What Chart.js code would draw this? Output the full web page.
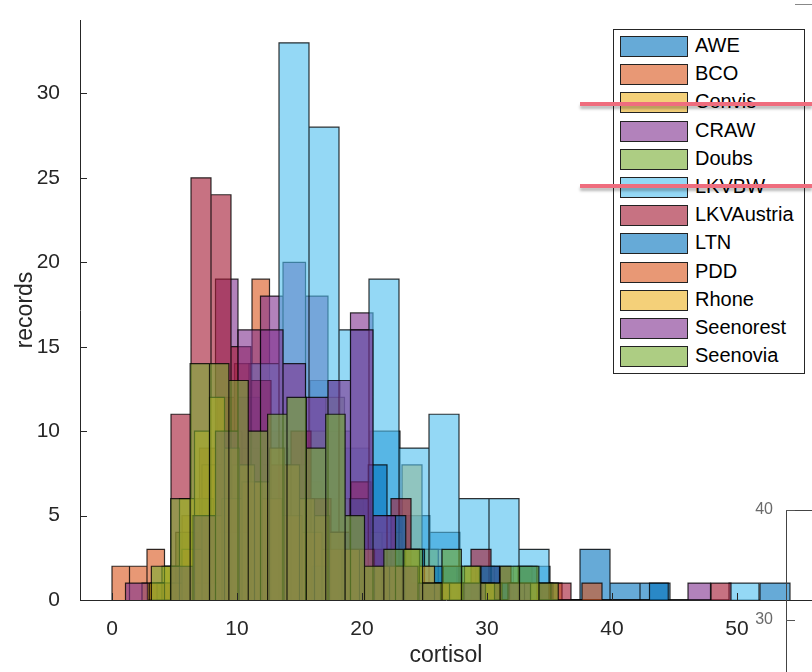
<!DOCTYPE html>
<html>
<head>
<meta charset="utf-8">
<script src="https://cdn.jsdelivr.net/npm/chart.js@4.4.1/dist/chart.umd.min.js"></script>
<style>
  body { margin: 0; background: #fff; }
  #wrap { position: relative; width: 812px; height: 672px; overflow: hidden; font-family: "Liberation Sans", Arial, sans-serif; }
  #main { position: absolute; left: 0; top: 0; }
  #inset { position: absolute; left: 700px; top: 490px; }
  #legend { position: absolute; left: 613px; top: 29px; width: 192px; height: 345px; border: 1px solid #262626; background: #fff; box-sizing: border-box; }
  .item { position: absolute; left: 6px; height: 21px; }
  .sw { position: absolute; left: 0; top: 0; width: 68px; height: 21px; border: 1px solid #222; box-sizing: border-box; }
  .lb { position: absolute; left: 75px; top: -2px; font-size: 20px; color: #000; white-space: nowrap; }
  .strike { position: absolute; left: 580px; width: 232px; height: 4px; background: #ef6d7e; box-shadow: 0 3px 3px rgba(0,0,0,0.28); }
  #corner { position: absolute; left: 795px; top: 4px; width: 17px; height: 1px; background: #888; }
</style>
</head>
<body>
<div id="wrap">
  <canvas id="main" width="812" height="672"></canvas>
  <canvas id="inset" width="112" height="182"></canvas>
  <div id="legend"></div>
  <div class="strike" style="top:102px"></div>
  <div class="strike" style="top:184px"></div>
  <div id="corner"></div>
</div>
<script>
// --- data (histogram bins) ---
const names = ["AWE", "BCO", "Convis", "CRAW", "Doubs", "LKVBW", "LKVAustria", "LTN", "PDD", "Rhone", "Seenorest", "Seenovia"];
const rgb = ["0,114,189", "217,83,25", "237,177,32", "126,47,142", "119,172,48", "77,190,238", "162,20,47",
             "0,114,189", "217,83,25", "237,177,32", "126,47,142", "119,172,48"];

// first bin edge and bin width of each series
const binStart = [8.64, 0.0, 2.4, 8.28, 3.6, 6.16, 3.12, 16.0, 4.0, 3.0, 1.08, 3.15];
const binWidth = [2.4, 1.4, 1.6, 1.8, 1.5, 2.4, 1.6, 1.5, 1.6, 1.2, 1.8, 1.55];

const aweCounts = [1, 3, 7, 13, 9, 10, 5, 4, 2, 2, 2, 0, 3, 1, 1, 0, 0, 0, 1];
const bcoCounts = [2, 2, 3, 2, 4, 9, 12, 14, 19, 10, 7, 5, 4, 3, 2, 1, 1, 0, 1];
const convisCounts = [1, 2, 5, 8, 10, 9, 8, 10, 7, 6, 5, 3, 4, 8, 3, 2, 2, 1, 1, 0, 1];
const crawCounts = [19, 12, 18, 20, 18, 10, 17, 5, 3, 1, 1, 0, 1, 0, 1, 0, 0, 0, 0, 0, 0, 1];
const doubsCounts = [1, 4, 6, 5, 8, 7, 9, 8, 10, 12, 6, 4, 3, 2, 3, 2, 1, 2, 1, 2, 1];
const lkvbwCounts = [1, 4, 14, 33, 28, 16, 19, 9, 11, 6, 6, 3, 0, 0, 0, 0, 0, 0, 1];
const lkvAustriaCounts = [1, 11, 25, 24, 15, 13, 8, 10, 6, 4, 7, 3, 6, 1, 1, 0, 3, 2, 0, 1, 1, 0, 0, 0, 0, 0, 0, 0, 1];
const ltnCounts = [2, 4, 6, 8, 5, 3, 2, 2, 1, 2, 1, 2, 0, 0, 0, 0, 0, 0, 1];
const pddCounts = [1, 3, 5, 6, 7, 6, 5, 4, 3, 3, 2, 2, 2, 1, 1, 0, 1, 0, 0, 0, 0, 1];
const rhoneCounts = [1, 2, 6, 10, 12, 9, 8, 7, 9, 8, 6, 5, 4, 3, 3, 2, 2, 3, 2, 1, 1, 2, 1, 0, 1, 1];
const seenorestCounts = [1, 0, 2, 5, 10, 16, 16, 14, 12, 13, 16, 5, 2, 1, 0, 1, 0, 1];
const seenoviaCounts = [2, 6, 14, 14, 13, 10, 11, 12, 9, 11, 5, 2, 3, 3, 1, 3, 2, 1, 2, 2, 1];

const allCounts = [aweCounts, bcoCounts, convisCounts, crawCounts, doubsCounts, lkvbwCounts,
                   lkvAustriaCounts, ltnCounts, pddCounts, rhoneCounts, seenorestCounts, seenoviaCounts];

const xTicks = [0, 10, 20, 30, 40, 50];
const yTicks = [0, 5, 10, 15, 20, 25, 30];
const insetTicks = [30, 40];

const axisColor = "#262626";
const font = "'Liberation Sans', Arial, sans-serif";

// outline of one histogram: every bar goes back down to zero
function histPoints(start, width, counts) {
  const pts = [{ x: start, y: 0 }];
  counts.forEach((c, i) => {
    const a = start + i * width;
    const b = a + width;
    pts.push({ x: a, y: c }, { x: b, y: c }, { x: b, y: 0 });
  });
  return pts;
}

// no extra room for the end labels, the frame is fixed
function noPad(s) {
  s.paddingTop = 0;
  s.paddingBottom = 0;
}

// small tick marks drawn inside the axes (matlab style)
const innerTicks = {
  id: "innerTicks",
  afterDraw(chart, args, opts) {
    const ctx = chart.ctx;
    const area = chart.chartArea;
    ctx.save();
    ctx.strokeStyle = opts.color || axisColor;
    ctx.lineWidth = 1;
    const len = opts.len || 7;
    for (const id of ["x", "y"]) {
      const sc = chart.scales[id];
      if (!sc || opts.skip === id) continue;
      for (const t of sc.ticks) {
        const p = Math.round(sc.getPixelForValue(t.value)) + 0.5;
        ctx.beginPath();
        if (id === "x") {
          ctx.moveTo(p, area.bottom);
          ctx.lineTo(p, area.bottom - len);
        } else {
          ctx.moveTo(area.left, p);
          ctx.lineTo(area.left + len, p);
        }
        ctx.stroke();
      }
    }
    ctx.restore();
  }
};

const datasets = names.map((n, i) => ({
  label: n,
  data: histPoints(binStart[i], binWidth[i], allCounts[i]),
  backgroundColor: "rgba(" + rgb[i] + ",0.6)",
  borderColor: "rgba(0,0,0,0.8)",
  borderWidth: 1.2,
  fill: "origin",
  pointRadius: 0,
  tension: 0,
  order: names.length - 1 - i
}));

new Chart(document.getElementById("main"), {
  type: "line",
  data: { datasets },
  options: {
    responsive: false,
    animation: false,
    devicePixelRatio: 1,
    layout: { padding: { top: 20, right: 0, left: 0, bottom: 0 } },
    plugins: {
      legend: { display: false },
      tooltip: { enabled: false },
      innerTicks: { len: 7 }
    },
    scales: {
      x: {
        type: "linear",
        min: -2.56,
        max: 56,
        afterBuildTicks: s => { s.ticks = xTicks.map(v => ({ value: v })); },
        afterFit: s => { s.height = 72; s.paddingLeft = 0; s.paddingRight = 0; },
        grid: { display: false },
        border: { color: axisColor, width: 1 },
        ticks: { color: axisColor, font: { family: font, size: 21 }, padding: 9, maxRotation: 0 },
        title: { display: true, text: "cortisol", color: axisColor, font: { family: font, size: 23 }, padding: { top: 0, bottom: 3 } }
      },
      y: {
        min: 0,
        max: 34.35,
        afterBuildTicks: s => { s.ticks = yTicks.map(v => ({ value: v })); },
        afterFit: s => { s.width = 80; noPad(s); },
        grid: { display: false },
        border: { color: axisColor, width: 1 },
        ticks: { color: axisColor, font: { family: font, size: 21 }, padding: 12 },
        title: { display: true, text: "records", color: axisColor, font: { family: font, size: 23 }, padding: { top: 12, bottom: 0 } }
      }
    }
  },
  plugins: [innerTicks]
});

// partial second axes peeking in at the bottom right
new Chart(document.getElementById("inset"), {
  type: "line",
  data: { datasets: [] },
  options: {
    responsive: false,
    animation: false,
    devicePixelRatio: 1,
    layout: { padding: 0 },
    plugins: { legend: { display: false }, tooltip: { enabled: false }, innerTicks: { len: 9, color: "#555", skip: "x" } },
    scales: {
      x: {
        type: "linear", position: "top", min: 0, max: 1,
        afterFit: s => { s.height = 20; s.paddingLeft = 0; s.paddingRight = 0; },
        grid: { display: false },
        ticks: { display: false },
        border: { color: "#444", width: 1 }
      },
      y: {
        min: 25.27, max: 40,
        afterBuildTicks: s => { s.ticks = insetTicks.map(v => ({ value: v })); },
        afterFit: s => { s.width = 86; noPad(s); },
        grid: { display: false },
        border: { color: "#444", width: 1 },
        ticks: { color: "#6a6a6a", font: { family: font, size: 16 }, padding: 5 }
      }
    }
  },
  plugins: [innerTicks]
});

// legend box, built from the same names / colours
const legend = document.getElementById("legend");
names.forEach((n, i) => {
  const item = document.createElement("div");
  item.className = "item";
  item.style.top = (6 + i * 28.2) + "px";
  const sw = document.createElement("div");
  sw.className = "sw";
  sw.style.background = "rgba(" + rgb[i] + ",0.6)";
  const lb = document.createElement("div");
  lb.className = "lb";
  lb.textContent = n;
  item.appendChild(sw);
  item.appendChild(lb);
  legend.appendChild(item);
});
</script>
</body>
</html>
